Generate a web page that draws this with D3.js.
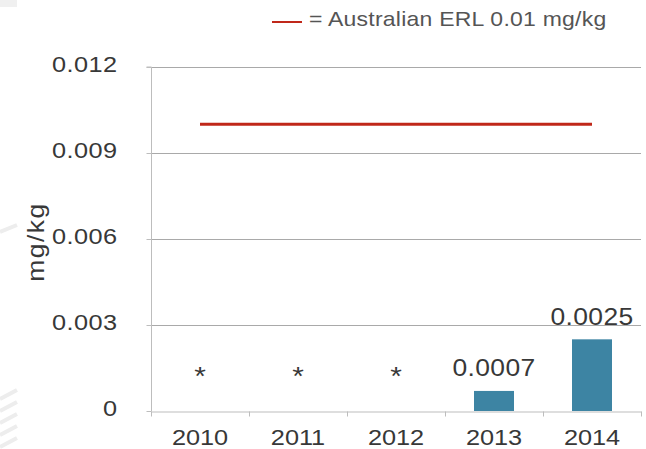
<!DOCTYPE html>
<html><head><meta charset="utf-8">
<script src="https://cdn.jsdelivr.net/npm/d3@7"></script>
<style>
html,body{margin:0;padding:0;background:#fff;}
svg{display:block;font-family:"Liberation Sans",Arial,Helvetica,sans-serif;}
</style></head>
<body><svg id="c" width="646" height="449"></svg>
<script>
const categories = ["2010","2011","2012","2013","2014"];
const values = [0, 0, 0, 0.0007, 0.0025];
const valueLabels = ["*","*","*","0.0007","0.0025"];
const erlValues = [0.01, 0.01, 0.01, 0.01, 0.01];
const yTicks = [0, 0.003, 0.006, 0.009, 0.012];
const yTickLabels = ["0","0.003","0.006","0.009","0.012"];
const legendText = "= Australian ERL 0.01 mg/kg";
const yTitle = "mg/kg";

const svg = d3.select("#c");
const m = {left:151, right:641, top:67, bottom:411};
const x = d3.scaleBand().domain(categories).range([m.left, m.right]).paddingInner(0).paddingOuter(0);
const y = d3.scaleLinear().domain([0, 0.012]).range([m.bottom, m.top]);
const textCol = "#383838";
const barCol = "#3d84a3";
const redCol = "#c0281a";
const SX = 1.15; // wide glyph look

// horizontally stretch a text element around its own anchor point
function stretch(sel, extra) {
  sel.each(function() {
    const t = d3.select(this);
    const tx = +t.attr("x") || 0, ty = +t.attr("y") || 0;
    t.attr("x", 0).attr("y", 0)
     .attr("transform", `translate(${tx},${ty})${extra || ""} scale(${SX},1)`);
  });
}

// faint background watermark stripes on the left edge
const wm = svg.append("g").attr("stroke","#ededed").attr("stroke-width",4).attr("fill","none");
[[0,232,17,225],[0,399,17,390],[0,411,17,402],[0,423,17,414],[0,435,17,426],[0,447,17,438]].forEach(d=>{
  wm.append("line").attr("x1",d[0]).attr("y1",d[1]).attr("x2",d[2]).attr("y2",d[3]);
});
svg.append("rect").attr("x",0).attr("y",0).attr("width",17).attr("height",7).attr("fill","#f0f0f0");

// gridlines
svg.append("g").selectAll("line").data(yTicks.filter(t=>t>0)).join("line")
  .attr("x1", m.left).attr("x2", m.right)
  .attr("y1", d=>Math.round(y(d))+0.5).attr("y2", d=>Math.round(y(d))+0.5)
  .attr("stroke","#a9a9a9").attr("stroke-width",1);

// y axis
const yAxis = svg.append("g").attr("transform",`translate(${m.left+0.5},0)`)
  .call(d3.axisLeft(y).tickValues(yTicks).tickSize(5).tickPadding(29).tickFormat((d,i)=>yTickLabels[i]));
yAxis.select(".domain").attr("stroke","#bdbdbd").attr("d",`M-5,${m.top}H0V${m.bottom}`);
yAxis.selectAll(".tick line").attr("stroke","#bdbdbd");
yAxis.selectAll(".tick text").attr("fill",textCol).attr("font-size",22)
  .attr("letter-spacing",0.4).attr("dy","0.2em").call(stretch);

// x axis
const xAxis = svg.append("g").attr("transform",`translate(0,${m.bottom+0.5})`)
  .call(d3.axisBottom(x).tickSize(0).tickPadding(18));
xAxis.select(".domain").attr("stroke","#bdbdbd");
xAxis.selectAll(".tick text").attr("fill",textCol).attr("font-size",22).call(stretch);
// category boundary ticks
xAxis.append("g").selectAll("line").data(categories.map(c=>x(c)).concat([x(categories[categories.length-1])+x.bandwidth()]))
  .join("line").attr("x1",d=>Math.round(d)+0.5).attr("x2",d=>Math.round(d)+0.5).attr("y1",0).attr("y2",5)
  .attr("stroke","#bdbdbd");

// bars
const bw = 40;
svg.append("g").selectAll("rect").data(values).join("rect")
  .attr("x",(d,i)=>x(categories[i])+x.bandwidth()/2-bw/2)
  .attr("y",d=>y(d)).attr("width",bw).attr("height",d=>y(0)-y(d))
  .attr("fill",barCol);

// value labels
svg.append("g").selectAll("text").data(valueLabels).join("text")
  .attr("x",(d,i)=>x(categories[i])+x.bandwidth()/2)
  .attr("y",(d,i)=> d==="*" ? y(values[i])-26 : y(values[i])-14.5)
  .attr("text-anchor","middle").attr("fill",textCol)
  .attr("font-size",(d)=> d==="*" ? 26 : 23)
  .attr("letter-spacing",(d)=> d==="*" ? 0 : 0.35)
  .text(d=>d).call(stretch);

// ERL line
const line = d3.line().x((d,i)=>x(categories[i])+x.bandwidth()/2).y(d=>y(d));
svg.append("path").datum(erlValues).attr("d",line).attr("fill","none")
  .attr("stroke",redCol).attr("stroke-width",3);

// y title
svg.append("text").attr("x",44).attr("y",242)
  .attr("text-anchor","middle").attr("fill",textCol).attr("font-size",23)
  .attr("letter-spacing",1.3).text(yTitle).call(stretch, " rotate(-90)");

// legend
svg.append("line").attr("x1",272).attr("x2",302).attr("y1",22).attr("y2",22)
  .attr("stroke",redCol).attr("stroke-width",2);
svg.append("text").attr("x",309).attr("y",25.5).attr("fill","#555").attr("font-size",20)
  .attr("letter-spacing",0.2).text(legendText).call(stretch);
</script></body></html>
